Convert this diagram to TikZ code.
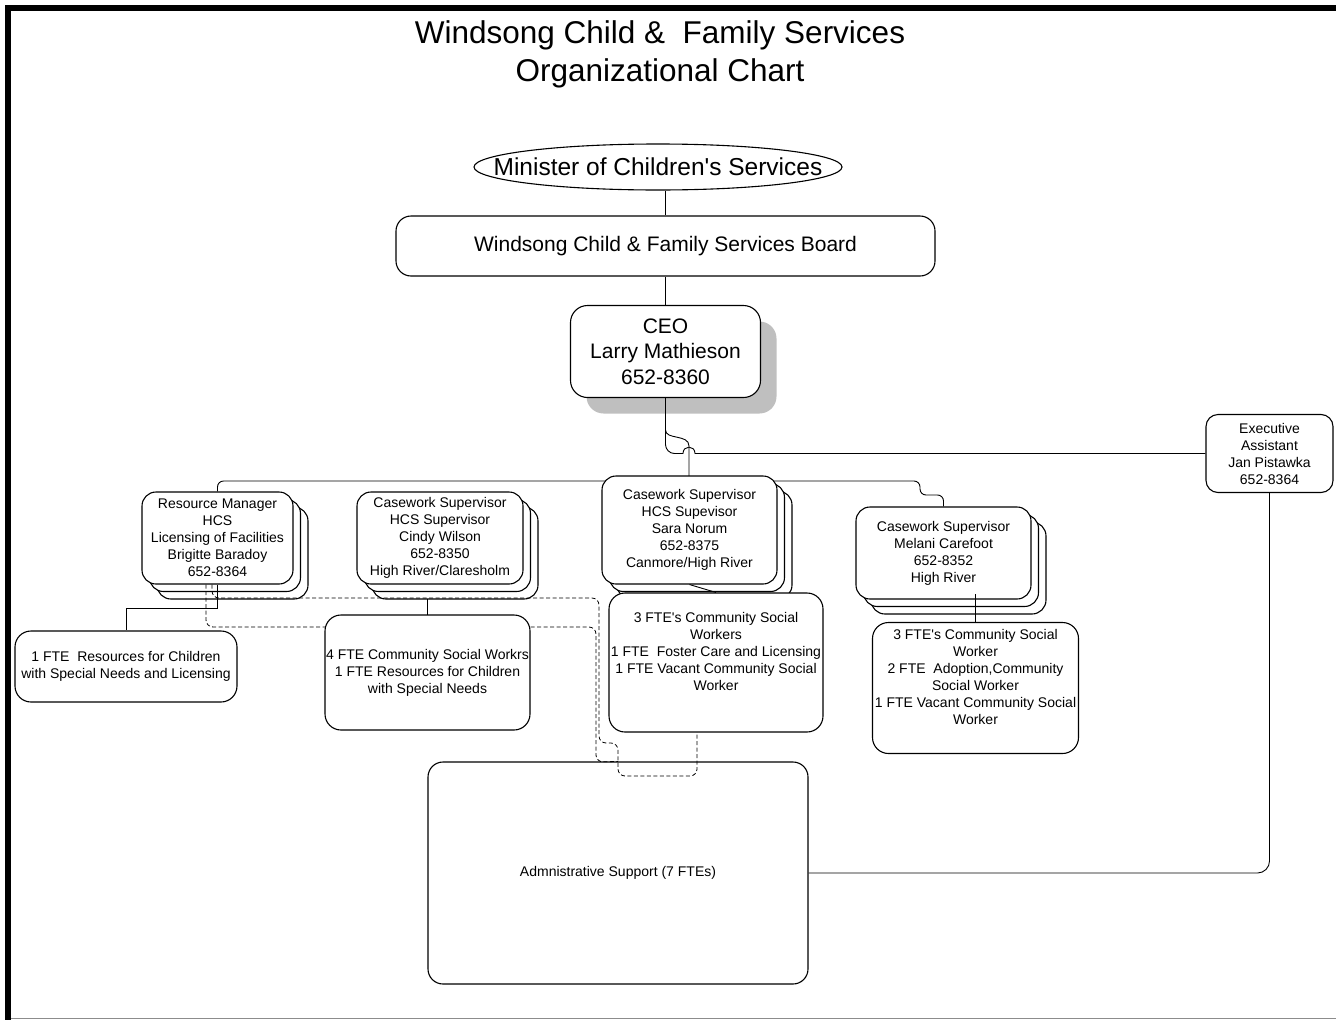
\documentclass[tikz,border=0pt]{standalone}
\usepackage{fontspec}
\setmainfont{Liberation Sans}[Ligatures=TeXOff]
\usetikzlibrary{shapes.geometric,shadows}
\pgfdeclarelayer{upper}
\pgfsetlayers{main,upper}
\begin{document}
\begin{tikzpicture}[x=1pt,y=-1pt,
  box/.style={draw, line width=1.1pt, fill=white, rounded corners=14pt, align=center, inner sep=0pt, font=\fontsize{14}{17}\selectfont},
  stackbox/.style={box,
    copy shadow={shadow xshift=15pt, shadow yshift=-15pt, fill=white, draw=black},
    copy shadow={shadow xshift=7.5pt, shadow yshift=-7.5pt, fill=white, draw=black}},
  conn/.style={line width=0.9pt},
  dconn/.style={line width=0.8pt, dash pattern=on 4pt off 2.5pt, rounded corners=7pt},
]
\useasboundingbox (0,0) rectangle (1336,1020);
% frame
\draw[line width=6pt] (8,1020) -- (8,8) -- (1336,8);
\draw[black!45, line width=1pt] (11,1018.5) -- (1336,1018.5);

% title
\node[align=center, font=\fontsize{31.5}{38}\selectfont] (title) at (660,54) {Windsong Child \& \ Family Services\\Organizational Chart};

% top nodes
\node[ellipse, draw, line width=1.1pt, inner xsep=-45pt, inner ysep=0pt, minimum width=368pt, minimum height=46pt, font=\fontsize{24.5}{29}\selectfont] (minister) at (658,167) {Minister of Children's Services};
\node[box, rounded corners=15pt, minimum width=539pt, minimum height=60pt, font=\fontsize{21}{25}\selectfont] (board) at (665.5,246) {Windsong Child \& Family Services Board};
\node[box, rounded corners=17pt, minimum width=190pt, minimum height=92pt, font=\fontsize{21}{25.5}\selectfont,
  general shadow={fill=black!25, shadow xshift=16pt, shadow yshift=-16pt}] (ceo) at (665.5,351.5) {CEO\\Larry Mathieson\\652-8360};
\node[box, rounded corners=12pt, minimum width=127pt, minimum height=78pt] (exec) at (1269.5,453.5) {Executive\\Assistant\\Jan Pistawka\\652-8364};
\node[box, rounded corners=15pt, minimum width=380pt, minimum height=222pt] (admin) at (618,873) {Admnistrative Support (7 FTEs)};

% supervisors
\node[stackbox, minimum width=151pt, minimum height=92pt] (res) at (217.5,538) {Resource Manager\\HCS\\Licensing of Facilities\\Brigitte Baradoy\\652-8364};
\node[stackbox, minimum width=166pt, minimum height=92pt] (cindy) at (440,538) {Casework Supervisor\\HCS Supervisor\\Cindy Wilson\\652-8350\\High River/Claresholm};
\node[stackbox, minimum width=175pt, minimum height=92pt] (mel) at (943.5,553) {Casework Supervisor\\Melani Carefoot\\652-8352\\High River};

% staff boxes
\node[box, rounded corners=16pt, minimum width=222pt, minimum height=71pt] (fte1) at (126,666.5) {1 FTE\ \ Resources for Children\\with Special Needs and Licensing};
\node[box, rounded corners=16pt, minimum width=206pt, minimum height=131pt] (fte4) at (975.5,688) {3 FTE's Community Social\\Worker\\2 FTE\ \ Adoption,Community\\Social Worker\\1 FTE Vacant Community Social\\Worker\\\strut};

% connectors
\draw[conn] (board.north) -- (board.north |- minister.south);
\draw[conn] (board.south) -- (ceo.north);
\draw[conn] (ceo.south) -- (665.5,430) .. controls (665.5,440) and (689,434) .. (689,446) -- (689,481);
\draw[conn, rounded corners=9pt] (ceo.south) -- (665.5,453.5) -- (683,453.5);
\draw[conn] (683,453.5) .. controls (683,445) and (695,445) .. (695,453.5) -- (exec.west);
\draw[conn, rounded corners=12pt] (exec.south) |- (admin.east);
\draw[conn, rounded corners=6pt] (res.north) -- (217.5,481) -- (920,481) -- (920,495) -- (943.5,495) -- (mel.north);
\draw[conn] (res.south) -- ++(0,24) -| (fte1.north);
\draw[conn] (427.5,615) -- (427.5,599);
\draw[conn] (fte4.north) -- ++(0,-28);

% dashed connectors
\draw[dconn] ([xshift=-5.5pt]res.south) -- (212,598) -- (599,598) -- (599,743) -- (618,743) -- (618,776) -- (697,776) -- (697,732);
\draw[dconn] ([xshift=-11.5pt]res.south) -- (206,627) -- (596,627) -- (596,762) -- (admin.north);

\begin{pgfonlayer}{upper}
\node[stackbox, minimum width=175pt, minimum height=108pt] (sara) at (689.5,530) {Casework Supervisor\\HCS Supevisor\\Sara Norum\\652-8375\\Canmore/High River};
\node[box, rounded corners=16pt, minimum width=214pt, minimum height=139pt] (fte3) at (716,662.5) {3 FTE's Community Social\\Workers\\1 FTE\ \ Foster Care and Licensing\\1 FTE Vacant Community Social\\Worker\\\strut};
\node[box, rounded corners=16pt, minimum width=205pt, minimum height=115pt] (fte2) at (427.5,672.5) {4 FTE Community Social Workrs\\1 FTE Resources for Children\\with Special Needs};
\draw[conn] (sara.south) -- (fte3.north);
\end{pgfonlayer}
\end{tikzpicture}
\end{document}
